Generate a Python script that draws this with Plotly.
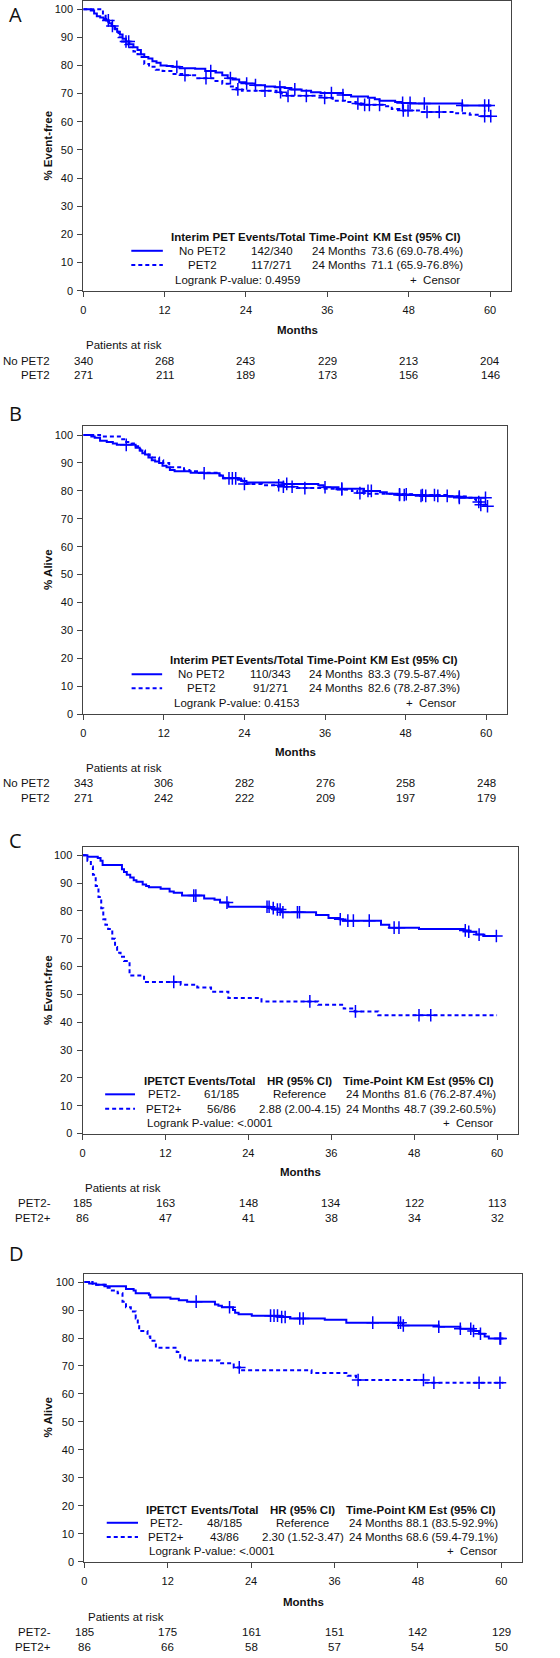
import plotly.graph_objects as go

# ------------------------------------------------------------------ data
month_ticks = [0, 12, 24, 36, 48, 60]
pct_ticks = [0, 10, 20, 30, 40, 50, 60, 70, 80, 90, 100]

# Panel A: event-free survival, No PET2 vs PET2
A_nopet_t = [0, 1.1, 1.6, 2.0, 2.5, 3.0, 3.4, 3.8, 4.2, 4.6, 5.0, 5.4, 5.8, 6.3, 6.8, 7.4, 8.0, 8.5, 9.0, 9.6,
             10.2, 10.8, 11.4, 12.3, 13.2, 14.2, 16.5, 18.0, 19.5, 20.5, 21.3, 22.0, 23.0, 24.0, 25.3, 26.8, 28.3,
             29.7, 30.7, 32.2, 33.6, 35.0, 38.3, 39.5, 42.0, 43.0, 43.7, 46.0, 47.0, 48.3, 55.9, 60.2]
A_nopet_s = [100, 99.5, 98.5, 97.5, 97, 96.5, 96, 95, 94, 93, 92, 91, 89.5, 88.5, 87.5, 86.5, 85.5, 84, 83, 82.5,
             81.5, 81, 80, 79.8, 79.5, 79, 78.8, 78, 77.5, 76.5, 75.5, 75, 74, 73.6, 73, 72.5, 72.3,
             72, 71.5, 71, 70.5, 70.2, 69.5, 69, 68.5, 68, 67.5, 67, 66.7, 66.5, 65.8, 65.8]
A_pet_t = [0, 2.9, 3.3, 3.7, 4.2, 4.7, 5.2, 5.7, 6.2, 6.8, 7.4, 8.0, 8.6, 9.0, 9.7, 10.7, 11.7, 13.0, 14.6, 16.5,
           19.5, 20.5, 21.5, 22.6, 23.4, 28.5, 29.2, 30.0, 35.3, 36.8, 38.6, 40.2, 41.0, 44.5, 45.5, 46.8, 50.0,
           55.0, 57.0, 58.5, 60.3]
A_pet_s = [100, 98, 96, 95, 94, 92, 90, 88.5, 87.5, 86.5, 85, 84, 83, 80.5, 79.5, 78.5, 78, 77, 76.5, 75.5,
           74.5, 73.5, 72.5, 71.5, 71, 70.5, 70, 69.2, 68.5, 67.5, 67, 66.5, 66, 65.5, 64.5, 64, 63.5,
           63, 62.5, 62, 62]
A_nopet_cens = [3.7, 4.3, 6.3, 6.7, 13.8, 18.8, 21.7, 24.1, 25.4, 29.0, 31.2, 36.6, 38.3, 47.1, 48.2, 50.3, 55.9,
                59.2, 59.8]
A_pet_cens = [15.0, 18.1, 22.8, 26.8, 29.1, 30.2, 32.9, 35.6, 40.5, 41.5, 42.2, 43.7, 47.2, 47.9, 50.7, 52.5,
              59.2, 60.1]
A_risk_nopet = [340, 268, 243, 229, 213, 204]
A_risk_pet = [271, 211, 189, 173, 156, 146]

# Panel B: overall survival, No PET2 vs PET2
B_nopet_t = [0, 1.2, 1.7, 2.5, 3.5, 4.4, 5.0, 7.8, 8.4, 8.8, 9.2, 9.7, 10.2, 10.7, 11.3, 11.8, 12.4, 12.9, 13.6,
             16.0, 18.0, 20.3, 20.8, 23.0, 23.6, 24.3, 29.8, 35.0, 35.8, 38.0, 41.8, 44.2, 45.2, 46.8, 50.2, 54.5,
             56.0, 60.0]
B_nopet_s = [100, 99.5, 99, 98, 97.5, 97, 96.5, 95.5, 94.5, 93.5, 93, 92, 91, 90.5, 90, 89, 88.5, 87.5, 87,
             86.5, 86.3, 85.5, 84.5, 84, 83.5, 83, 82.5, 82, 81.3, 80.8, 80, 79.5, 79, 78.5, 78.2, 78,
             77.5, 77.5]
B_pet_t = [0, 2.5, 5.8, 6.4, 7.2, 7.8, 8.5, 9.2, 9.9, 11.3, 11.9, 12.8, 15.0, 15.8, 17.2, 20.3, 20.9, 23.2, 23.8,
           26.6, 29.5, 31.8, 35.5, 37.5, 40.0, 40.8, 41.8, 46.0, 49.5, 54.5, 57.3, 58.0, 58.5, 59.2, 60.2]
B_pet_s = [100, 99.5, 98.5, 97.5, 97, 96, 94.5, 93, 92, 91, 90, 88.5, 87.5, 87, 86.5, 85.5, 84.5, 83.5, 82.5,
           82, 81.5, 81, 80.8, 80.5, 80, 79.2, 79, 78.8, 78.5, 78, 77.5, 77, 76, 75, 74.5]
B_nopet_cens = [6.4, 18.0, 21.7, 22.2, 22.7, 30.3, 36.0, 38.5, 42.4, 42.9, 47.1, 47.8, 50.3, 51.0, 52.8, 54.2,
                56.0, 59.9]
B_pet_cens = [24.0, 29.1, 29.8, 31.1, 33.0, 38.5, 41.2, 47.1, 48.1, 50.5, 52.3, 56.0, 58.9, 59.2, 60.2]
B_risk_nopet = [343, 306, 282, 276, 258, 248]
B_risk_pet = [271, 242, 222, 209, 197, 179]

# Panel C: event-free survival, PET2- vs PET2+
C_neg_t = [0, 0.7, 2.2, 2.6, 2.9, 5.7, 6.0, 6.4, 6.9, 7.4, 7.8, 8.7, 9.2, 9.6, 11.3, 12.6, 13.2, 14.4, 17.6, 19.1,
           19.9, 21.1, 27.1, 27.7, 28.8, 33.8, 35.6, 37.2, 37.7, 43.2, 44.4, 48.7, 55.2, 55.9, 57.0, 58.0, 60.0]
C_neg_s = [100, 99.5, 99, 98, 96.5, 95, 94, 93, 92, 91, 90.5, 89.5, 89, 88.5, 88, 87, 86.5, 85.5, 84.5, 84,
           83, 81.5, 81, 80.5, 79.5, 78.5, 77.5, 77, 76.5, 75, 74, 73.5, 73, 72.5, 71.5, 71, 71]
C_pos_t = [0, 0.7, 1.2, 1.5, 1.9, 2.3, 2.7, 3.0, 3.3, 3.7, 4.3, 4.7, 5.0, 5.5, 6.0, 6.8, 8.9, 14.2, 16.6, 18.6,
           21.1, 25.9, 34.1, 37.8, 39.4, 42.8, 60.0]
C_pos_s = [100, 98, 96, 93, 89, 85, 81, 77, 75, 73.5, 70, 67, 65, 63.5, 62, 56.8, 54.5, 53.5, 52.5, 51,
           48.7, 47.5, 46.3, 44.9, 43.9, 42.5, 42.5]
C_neg_cens = [16.1, 16.4, 20.9, 26.7, 27.0, 27.6, 28.2, 28.6, 29.0, 31.1, 31.4, 37.3, 38.4, 39.2, 41.5, 45.1,
              45.8, 55.4, 55.9, 57.4, 59.9]
C_pos_cens = [13.2, 32.9, 39.5, 48.7, 50.4]
C_risk_neg = [185, 163, 148, 134, 122, 113]
C_risk_pos = [86, 47, 41, 38, 34, 32]

# Panel D: overall survival, PET2- vs PET2+
D_neg_t = [0, 0.7, 1.7, 2.9, 6.0, 7.1, 7.4, 9.3, 9.5, 12.4, 13.6, 14.8, 18.8, 19.3, 19.8, 21.4, 21.7, 22.2, 24.1,
           28.1, 29.6, 34.6, 37.7, 45.8, 51.0, 54.1, 56.0, 56.8, 57.6, 58.2, 60.3]
D_neg_s = [100, 99.5, 99, 98.5, 97.5, 97, 96, 95.5, 94.5, 94, 93.5, 93, 92, 91.5, 91, 90, 89, 88.5, 88,
           87.5, 87, 86.5, 85.5, 84.5, 84, 83.3, 82.5, 81.5, 80.5, 79.8, 79.8]
D_pos_t = [0, 1.2, 3.1, 3.8, 4.8, 5.5, 6.0, 6.7, 7.4, 7.7, 7.9, 9.1, 9.5, 10.3, 13.3, 13.8, 14.5, 19.5, 21.5, 22.4,
           32.7, 37.9, 39.1, 49.1, 60.3]
D_pos_s = [100, 99, 98, 97, 96, 93, 91, 89.5, 87, 85, 82.5, 80.5, 79, 76.5, 75, 73, 72, 71, 69.5, 68.5,
           67.5, 66.5, 65, 64, 64]
D_neg_cens = [16.1, 20.9, 26.8, 27.3, 27.8, 28.4, 28.9, 31.0, 31.5, 41.5, 45.2, 45.5, 45.9, 51.0, 54.1, 55.6,
              56.0, 57.0, 59.8, 59.9]
D_pos_cens = [22.3, 39.4, 48.8, 50.3, 56.8, 59.8]
D_risk_neg = [185, 175, 161, 151, 142, 129]
D_risk_pos = [86, 66, 58, 57, 54, 50]

# Legend tables
AB_header = ["Interim PET", "Events/Total", "Time-Point", "KM Est (95% CI)"]
A_rows = [["No PET2", "142/340", "24 Months", "73.6 (69.0-78.4%)"],
          ["PET2", "117/271", "24 Months", "71.1 (65.9-76.8%)"]]
A_logrank = "Logrank P-value: 0.4959"
B_rows = [["No PET2", "110/343", "24 Months", "83.3 (79.5-87.4%)"],
          ["PET2", "91/271", "24 Months", "82.6 (78.2-87.3%)"]]
B_logrank = "Logrank P-value: 0.4153"
CD_header = ["IPETCT", "Events/Total", "HR (95% CI)", "Time-Point", "KM Est (95% CI)"]
C_rows = [["PET2-", "61/185", "Reference", "24 Months", "81.6 (76.2-87.4%)"],
          ["PET2+", "56/86", "2.88 (2.00-4.15)", "24 Months", "48.7 (39.2-60.5%)"]]
C_logrank = "Logrank P-value: <.0001"
D_rows = [["PET2-", "48/185", "Reference", "24 Months", "88.1 (83.5-92.9%)"],
          ["PET2+", "43/86", "2.30 (1.52-3.47)", "24 Months", "68.6 (59.4-79.1%)"]]
D_logrank = "Logrank P-value: <.0001"

# ------------------------------------------------------------------ layout constants
W, H = 560, 1658
FONT = "Liberation Sans, Arial, sans-serif"
BLUE = "#0000ff"
AX = "#444444"
TXT = "#111111"
FS = 11.5


def px(x):
    return x / W


def py(y):
    return 1 - y / H


panels = [
    dict(letter="A", ytitle="% Event-free", frame=(80.7, 510.7, 1.0, 291.7), yr=102.9, xr=63.08, ly=15,
         curves=[(A_nopet_t, A_nopet_s, A_nopet_cens, "solid"), (A_pet_t, A_pet_s, A_pet_cens, "dash")],
         header=AB_header, rows=A_rows, logrank=A_logrank,
         leg_y=(238.3, 251.7, 266.0, 280.7), cols=[201, 270.2, 337.5, 416.2], line_x=(129, 160.7),
         lr_x=170.7, cens_x=461.7, months_y=331, par=(81, 346.7), risk_y=(362.3, 376.6), risk_lab_x=49.3,
         risk_lab=["No PET2", "PET2"], risk=[A_risk_nopet, A_risk_pet]),
    dict(letter="B", ytitle="% Alive", frame=(80.7, 506.7, 427.7, 716.7), yr=103.2, xr=63.1, ly=415,
         curves=[(B_nopet_t, B_nopet_s, B_nopet_cens, "solid"), (B_pet_t, B_pet_s, B_pet_cens, "dash")],
         header=AB_header, rows=B_rows, logrank=B_logrank,
         leg_y=(662.3, 676.7, 690.7, 705.3), cols=[200, 268.5, 335, 413], line_x=(129.3, 160),
         lr_x=170, cens_x=457.7, months_y=755, par=(81, 770.7), risk_y=(785.7, 800.5), risk_lab_x=49.3,
         risk_lab=["No PET2", "PET2"], risk=[B_risk_nopet, B_risk_pet]),
    dict(letter="C", ytitle="% Event-free", frame=(80.0, 517.7, 850.0, 1137.7), yr=103.0, xr=63.02, ly=844,
         curves=[(C_neg_t, C_neg_s, C_neg_cens, "solid"), (C_pos_t, C_pos_s, C_pos_cens, "dash")],
         header=CD_header, rows=C_rows, logrank=C_logrank,
         leg_y=(1085, 1098.3, 1112.7, 1127), cols=[162, 220, 298.3, 371.6, 449.8], line_x=(102.7, 132.7),
         lr_x=142.7, cens_x=494.7, months_y=1176.7, par=(80.5, 1192.7), risk_y=(1207.3, 1222.3),
         risk_lab_x=50, risk_lab=["PET2-", "PET2+"], risk=[C_risk_neg, C_risk_pos]),
    dict(letter="D", ytitle="% Alive", frame=(81.7, 521.7, 1278.3, 1567.5), yr=103.0, xr=62.96, ly=1258.3,
         curves=[(D_neg_t, D_neg_s, D_neg_cens, "solid"), (D_pos_t, D_pos_s, D_pos_cens, "dash")],
         header=CD_header, rows=D_rows, logrank=D_logrank,
         leg_y=(1515, 1528.3, 1542.7, 1557), cols=[164, 223, 301.3, 375, 451.5], line_x=(104.3, 135.7),
         lr_x=145, cens_x=499, months_y=1607.7, par=(83, 1622.7), risk_y=(1638.3, 1653.3),
         risk_lab_x=50, risk_lab=["PET2-", "PET2+"], risk=[D_risk_neg, D_risk_pos]),
]


def step_value(ts, ss, x):
    v = ss[0]
    for t, s in zip(ts, ss):
        if t <= x:
            v = s
    return v


fig = go.Figure()
annotations = []
shapes = []
layout_axes = {}


def ann(x, y, text, xanchor="center", bold=False, size=FS, xref="paper", family=FONT, angle=0):
    annotations.append(dict(
        x=x, y=y, xref=xref, yref="paper", text=f"<b>{text}</b>" if bold else text,
        showarrow=False, xanchor=xanchor, yanchor="middle", textangle=angle,
        font=dict(family=family, size=size, color=TXT)))


for i, p in enumerate(panels, start=1):
    sfx = "" if i == 1 else str(i)
    xname, yname = "x" + sfx, "y" + sfx
    l, r, t, b = p["frame"]
    common = dict(ticks="outside", ticklen=5, tickwidth=1, tickcolor=AX, showline=True, linecolor=AX,
                  linewidth=1, mirror=True, showgrid=False, zeroline=False, fixedrange=True,
                  tickfont=dict(family=FONT, size=11, color=TXT))
    layout_axes["xaxis" + sfx] = dict(domain=[px(l), px(r)], range=[0, p["xr"]], tickmode="array",
                                      tickvals=month_ticks, anchor=yname, ticklabelstandoff=4, **common)
    layout_axes["yaxis" + sfx] = dict(domain=[py(b), py(t)], range=[0, p["yr"]], tickmode="array",
                                      tickvals=pct_ticks, anchor=xname, ticklabelstandoff=2, **common)

    for ts, ss, cens, dash in p["curves"]:
        assert len(ts) == len(ss)
        fig.add_trace(go.Scatter(
            x=ts, y=ss, mode="lines", line=dict(color=BLUE, width=2, shape="hv",
                                                dash="4px,3px" if dash == "dash" else "solid"),
            xaxis=xname, yaxis=yname, showlegend=False, hoverinfo="skip"))
        fig.add_trace(go.Scatter(
            x=cens, y=[step_value(ts, ss, c) for c in cens], mode="markers",
            marker=dict(symbol="cross-thin", size=9, color=BLUE, line=dict(color=BLUE, width=1.5)),
            xaxis=xname, yaxis=yname, showlegend=False, hoverinfo="skip"))

    # panel letter
    ann(px(4), py(p["ly"]), p["letter"], xanchor="left", size=20, family="Open Sans, DejaVu Sans, sans-serif")
    # axis titles
    ann(px(45), py((t + b) / 2), p["ytitle"], bold=True, angle=-90)
    ann(px((l + r) / 2), py(p["months_y"]), "Months", bold=True)

    # legend table inside the plot
    hy, r1, r2, fy = p["leg_y"]
    for cx, txt in zip(p["cols"], p["header"]):
        ann(px(cx), py(hy), txt, bold=True)
    for ry, row in zip((r1, r2), p["rows"]):
        for cx, txt in zip(p["cols"], row):
            ann(px(cx), py(ry), txt)
    for ry, dash in ((r1, "solid"), (r2, "4px,3px")):
        shapes.append(dict(type="line", xref="paper", yref="paper", x0=px(p["line_x"][0]),
                           x1=px(p["line_x"][1]), y0=py(ry), y1=py(ry),
                           line=dict(color=BLUE, width=2, dash=dash)))
    ann(px(p["lr_x"]), py(fy), p["logrank"], xanchor="left")
    ann(px(p["cens_x"]), py(fy), "+&nbsp;&nbsp;Censor", xanchor="right")

    # patients at risk table
    ann(px(p["par"][0]), py(p["par"][1]), "Patients at risk", xanchor="left")
    for ry, lab, vals in zip(p["risk_y"], p["risk_lab"], p["risk"]):
        ann(px(p["risk_lab_x"]), py(ry), lab, xanchor="right")
        for m, v in zip(month_ticks, vals):
            annotations.append(dict(
                x=m, y=py(ry), xref=xname, yref="paper", text=str(v), showarrow=False,
                xanchor="center", yanchor="middle", font=dict(family=FONT, size=FS, color=TXT)))

fig.update_layout(
    width=W, height=H, autosize=False, margin=dict(l=0, r=0, t=0, b=0),
    paper_bgcolor="white", plot_bgcolor="white", showlegend=False,
    annotations=annotations, shapes=shapes, **layout_axes)

fig.write_html(
    "out.html",
    config=dict(displayModeBar=False, staticPlot=True),
    post_script="document.body.style.margin='0';document.body.style.padding='0';"
                "document.body.style.overflow='hidden';",
)
